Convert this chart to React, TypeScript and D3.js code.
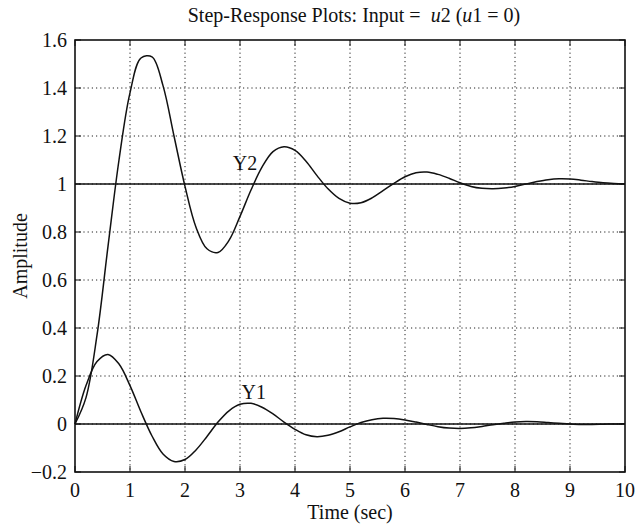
import { useEffect, useRef } from 'react';
import * as d3 from 'd3';

// sample times (sec)
const time = [
  0, 0.2, 0.4, 0.6, 0.8, 1, 1.2, 1.4, 1.6, 1.8, 2, 2.2, 2.4, 2.6, 2.8, 3, 3.2, 3.4, 3.6, 3.8, 4, 4.2, 4.4, 4.6,
  4.8, 5, 5.2, 5.4, 5.6, 5.8, 6, 6.2, 6.4, 6.6, 6.8, 7, 7.2, 7.4, 7.6, 7.8, 8, 8.2, 8.4, 8.6, 8.8, 9, 9.2, 9.4,
  9.6, 9.8, 10
];

// Y2 step response to u2
const y2 = [
  0, 0.11, 0.37, 0.74, 1.1, 1.38, 1.525, 1.53, 1.41, 1.2, 0.99, 0.82, 0.73, 0.715, 0.765, 0.865, 0.975, 1.07,
  1.135, 1.155, 1.14, 1.095, 1.035, 0.98, 0.94, 0.92, 0.922, 0.942, 0.972, 1.003, 1.03, 1.047, 1.05, 1.04, 1.024,
  1.005, 0.99, 0.982, 0.98, 0.983, 0.99, 1.0, 1.01, 1.018, 1.022, 1.021, 1.016, 1.01, 1.005, 1.002, 1.0
];

// Y1 step response to u2
const y1 = [
  0, 0.16, 0.26, 0.29, 0.25, 0.16, 0.05, -0.05, -0.125, -0.156, -0.148, -0.108, -0.052, 0.008, 0.055, 0.082,
  0.086, 0.07, 0.042, 0.008, -0.022, -0.045, -0.053, -0.047, -0.032, -0.012, 0.006, 0.018, 0.024, 0.023, 0.017,
  0.008, -0.002, -0.011, -0.017, -0.019, -0.016, -0.01, -0.003, 0.003, 0.008, 0.01, 0.009, 0.006, 0.003, 0,
  -0.002, -0.002, -0.001, 0, 0.001
];

// steady-state values
const finalValues = [1, 0];

const xTicks = [0, 1, 2, 3, 4, 5, 6, 7, 8, 9, 10];
const yTicks = [-0.2, 0, 0.2, 0.4, 0.6, 0.8, 1, 1.2, 1.4, 1.6];

const curveLabels = [
  { text: 'Y2', t: 3.09, v: 1.06 },
  { text: 'Y1', t: 3.25, v: 0.105 }
];

const WIDTH = 643;
const HEIGHT = 524;
const FONT = '"Liberation Serif", "Times New Roman", serif';

export default function App() {
  const ref = useRef<SVGSVGElement | null>(null);

  useEffect(() => {
    if (!ref.current) return;
    const svg = d3.select(ref.current);
    svg.selectAll('*').remove();

    const margin = { top: 40, right: 18, bottom: 52, left: 75 };
    const x = d3.scaleLinear().domain([0, 10]).range([margin.left, WIDTH - margin.right]);
    const y = d3.scaleLinear().domain([-0.2, 1.6]).range([HEIGHT - margin.bottom, margin.top]);
    const [x0, x1] = x.range();
    const [yb, yt] = y.range();

    svg.append('rect').attr('width', WIDTH).attr('height', HEIGHT).attr('fill', '#fff');

    // dotted grid
    const grid = svg.append('g').attr('stroke', '#222').attr('stroke-width', 1).attr('stroke-dasharray', '1.2,3');
    grid
      .selectAll('.gx')
      .data(xTicks.slice(1, -1))
      .enter()
      .append('line')
      .attr('x1', (d) => x(d))
      .attr('x2', (d) => x(d))
      .attr('y1', yt)
      .attr('y2', yb);
    grid
      .selectAll('.gy')
      .data(yTicks.slice(1, -1))
      .enter()
      .append('line')
      .attr('x1', x0)
      .attr('x2', x1)
      .attr('y1', (d) => y(d))
      .attr('y2', (d) => y(d));

    // steady-state lines
    svg
      .selectAll('.final')
      .data(finalValues)
      .enter()
      .append('line')
      .attr('x1', x0)
      .attr('x2', x1)
      .attr('y1', (d) => y(d))
      .attr('y2', (d) => y(d))
      .attr('stroke', '#111')
      .attr('stroke-width', 1.4);

    // responses
    const line = d3
      .line<number>()
      .x((_, i) => x(time[i]))
      .y((d) => y(d))
      .curve(d3.curveCatmullRom.alpha(0.5));

    [y2, y1].forEach((series) => {
      svg
        .append('path')
        .datum(series)
        .attr('fill', 'none')
        .attr('stroke', '#111')
        .attr('stroke-width', 1.5)
        .attr('d', line);
    });

    // frame
    svg
      .append('rect')
      .attr('x', x0)
      .attr('y', yt)
      .attr('width', x1 - x0)
      .attr('height', yb - yt)
      .attr('fill', 'none')
      .attr('stroke', '#111')
      .attr('stroke-width', 1.6);

    // inward ticks on all sides
    const tl = 6;
    const ticks = svg.append('g').attr('stroke', '#111').attr('stroke-width', 1);
    xTicks.forEach((d) => {
      ticks.append('line').attr('x1', x(d)).attr('x2', x(d)).attr('y1', yb).attr('y2', yb - tl);
      ticks.append('line').attr('x1', x(d)).attr('x2', x(d)).attr('y1', yt).attr('y2', yt + tl);
    });
    yTicks.forEach((d) => {
      ticks.append('line').attr('x1', x0).attr('x2', x0 + tl).attr('y1', y(d)).attr('y2', y(d));
      ticks.append('line').attr('x1', x1).attr('x2', x1 - tl).attr('y1', y(d)).attr('y2', y(d));
    });

    const text = svg.append('g').style('font-family', FONT).style('font-size', '20px').attr('fill', '#111');

    text
      .selectAll('.xl')
      .data(xTicks)
      .enter()
      .append('text')
      .attr('x', (d) => x(d))
      .attr('y', yb + 25)
      .attr('text-anchor', 'middle')
      .text((d) => String(d));

    text
      .selectAll('.yl')
      .data(yTicks)
      .enter()
      .append('text')
      .attr('x', x0 - 8)
      .attr('y', (d) => y(d) + 7)
      .attr('text-anchor', 'end')
      .text((d) => (d < 0 ? '\u2212' + Math.abs(d) : String(d)));

    text
      .append('text')
      .attr('x', (x0 + x1) / 2)
      .attr('y', HEIGHT - 5)
      .attr('text-anchor', 'middle')
      .text('Time (sec)');

    text
      .append('text')
      .attr('transform', `translate(27, ${(yt + yb) / 2}) rotate(-90)`)
      .attr('text-anchor', 'middle')
      .text('Amplitude');

    const title = text
      .append('text')
      .attr('x', (x0 + x1) / 2 + 4)
      .attr('y', 22)
      .attr('text-anchor', 'middle')
      .style('font-size', '20px');
    title.append('tspan').text('Step-Response Plots: Input =\u00a0 ');
    title.append('tspan').style('font-style', 'italic').text('u');
    title.append('tspan').text('2 (');
    title.append('tspan').style('font-style', 'italic').text('u');
    title.append('tspan').text('1 = 0)');

    text
      .selectAll('.cl')
      .data(curveLabels)
      .enter()
      .append('text')
      .attr('x', (d) => x(d.t))
      .attr('y', (d) => y(d.v))
      .attr('text-anchor', 'middle')
      .text((d) => d.text);
  }, []);

  return (
    <svg
      ref={ref}
      width={WIDTH}
      height={HEIGHT}
      style={{ position: 'absolute', left: 0, top: 0, display: 'block' }}
    />
  );
}
